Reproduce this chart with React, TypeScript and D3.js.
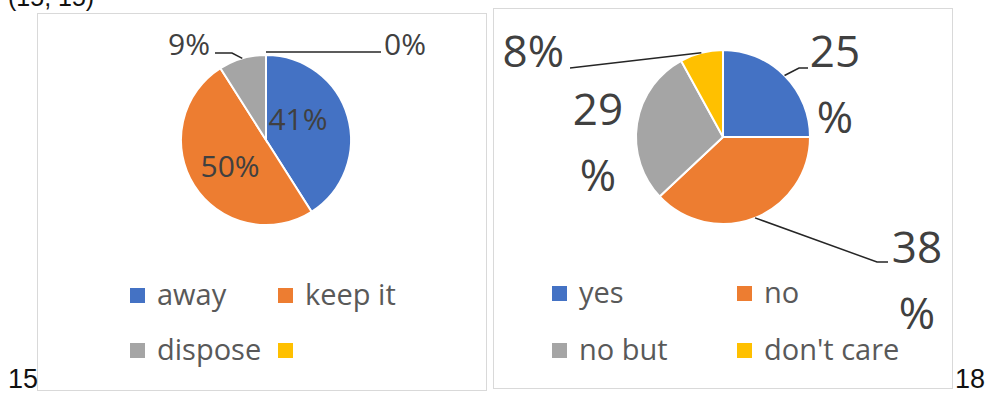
import React from "react";
import * as d3 from "d3";

const leftCategories = ["away", "keep it", "dispose", ""];
const leftValues = [41, 50, 9, 0];
const rightCategories = ["yes", "no", "no but", "don't care"];
const rightValues = [25, 38, 29, 8];
const pageLabels = ["15", "18"];
const topLabel = "(15, 15)";

const COLORS = ["#4472C4", "#ED7D31", "#A5A5A5", "#FFC000"];
const LABEL_COLOR = "#404040";
const LEGEND_COLOR = "#595959";
const FONT = "'Open Sans', 'Noto Sans', sans-serif";

type LabelSpec = {
  lines: string[];
  x: number;
  y: number;
  anchor: string;
  leader?: [number, number][];
};

function Pie({
  cx, cy, r, values, labels, fontSize, lineGap,
}: {
  cx: number; cy: number; r: number; values: number[];
  labels: (arcs: d3.PieArcDatum<number>[]) => LabelSpec[];
  fontSize: number; lineGap: number;
}) {
  const pie = d3.pie<number>().sort(null).value((d) => d);
  const arcs = pie(values);
  const arc = d3.arc<d3.PieArcDatum<number>>().innerRadius(0).outerRadius(r);
  const specs = labels(arcs);
  return (
    <g>
      <g transform={`translate(${cx},${cy})`}>
        {arcs.map((a, i) =>
          a.endAngle - a.startAngle > 0 ? (
            <path key={i} d={arc(a) || ""} fill={COLORS[i]} stroke="#fff" strokeWidth={2} />
          ) : null
        )}
      </g>
      {specs.map((s, i) => (
        <g key={i}>
          {s.leader && (
            <polyline
              points={s.leader.map((p) => p.join(",")).join(" ")}
              fill="none"
              stroke="#262626"
              strokeWidth={1.5}
            />
          )}
          {s.lines.map((t, j) => (
            <text
              key={j}
              x={s.x}
              y={s.y + j * lineGap}
              textAnchor={s.anchor}
              fontFamily={FONT}
              fontSize={fontSize}
              fill={LABEL_COLOR}
            >
              {t}
            </text>
          ))}
        </g>
      ))}
    </g>
  );
}

function edge(cx: number, cy: number, r: number, a: d3.PieArcDatum<number>): [number, number] {
  const m = (a.startAngle + a.endAngle) / 2;
  return [cx + r * Math.sin(m), cy - r * Math.cos(m)];
}

function Legend({ x0, x1, y0, y1, cats }: { x0: number; x1: number; y0: number; y1: number; cats: string[] }) {
  const pos = cats.map((c, i) => ({
    x: i % 2 === 0 ? x0 : x1,
    y: i < 2 ? y0 : y1,
    c,
    color: COLORS[i],
  }));
  return (
    <g>
      {pos.map((p, i) => (
        <g key={i}>
          <rect x={p.x} y={p.y - 17} width={15} height={15} fill={p.color} />
          <text x={p.x + 27} y={p.y} fontFamily={FONT} fontSize={29} fill={LEGEND_COLOR}>
            {p.c}
          </text>
        </g>
      ))}
    </g>
  );
}

export default function App() {
  const L = { cx: 266, cy: 140, r: 85 };
  const R = { cx: 723, cy: 137, r: 87 };
  const pct = (v: number) => `${v}%`;
  return (
    <svg
      width={986}
      height={394}
      style={{ position: "absolute", left: 0, top: 0, background: "#fff" }}
    >
      <rect x={0} y={0} width={986} height={394} fill="#fff" />
      <text x={8} y={6} fontFamily="'Liberation Sans', Arial, sans-serif" fontSize={25} fill="#111">
        {topLabel}
      </text>
      {/* panels */}
      <rect x={37.5} y={13.5} width={449} height={377} fill="#fff" stroke="#d9d9d9" strokeWidth={1} />
      <rect x={493.5} y={8.5} width={459} height={380} fill="#fff" stroke="#d9d9d9" strokeWidth={1} />

      <Pie
        {...L}
        values={leftValues}
        fontSize={30}
        lineGap={0}
        labels={(arcs) => [
          { lines: [pct(leftValues[0])], x: 298, y: 130, anchor: "middle" },
          {
            lines: [pct(leftValues[1])],
            x: L.cx + 0.5 * L.r * Math.sin((arcs[1].startAngle + arcs[1].endAngle) / 2),
            y: L.cy - 0.5 * L.r * Math.cos((arcs[1].startAngle + arcs[1].endAngle) / 2) + 14,
            anchor: "middle",
          },
          {
            lines: [pct(leftValues[2])],
            x: 210,
            y: 55,
            anchor: "end",
            leader: [[215, 53], [232, 53], edge(L.cx, L.cy, L.r, arcs[2])],
          },
          {
            lines: [pct(leftValues[3])],
            x: 384,
            y: 55,
            anchor: "start",
            leader: [[266, 52], [381, 52]],
          },
        ]}
      />
      <Legend x0={130} x1={278} y0={305} y1={360} cats={leftCategories} />

      <Pie
        {...R}
        values={rightValues}
        fontSize={44}
        lineGap={66}
        labels={(arcs) => [
          {
            lines: ["25", "%"],
            x: 835,
            y: 67,
            anchor: "middle",
            leader: [edge(R.cx, R.cy, R.r, arcs[0]), [799, 68], [808, 68]],
          },
          {
            lines: ["38", "%"],
            x: 917,
            y: 263,
            anchor: "middle",
            leader: [edge(R.cx, R.cy, R.r, arcs[1]), [877, 262], [888, 262]],
          },
          { lines: ["29", "%"], x: 598, y: 125, anchor: "middle" },
          {
            lines: [pct(rightValues[3])],
            x: 564,
            y: 67,
            anchor: "end",
            leader: [[570, 68], edge(R.cx, R.cy, R.r, arcs[3])],
          },
        ]}
      />
      <Legend x0={552} x1={737} y0={303} y1={360} cats={rightCategories} />

      <text x={8} y={388} fontFamily="'Liberation Sans', Arial, sans-serif" fontSize={27} fill="#111">
        {pageLabels[0]}
      </text>
      <text x={955} y={388} fontFamily="'Liberation Sans', Arial, sans-serif" fontSize={27} fill="#111">
        {pageLabels[1]}
      </text>
    </svg>
  );
}
